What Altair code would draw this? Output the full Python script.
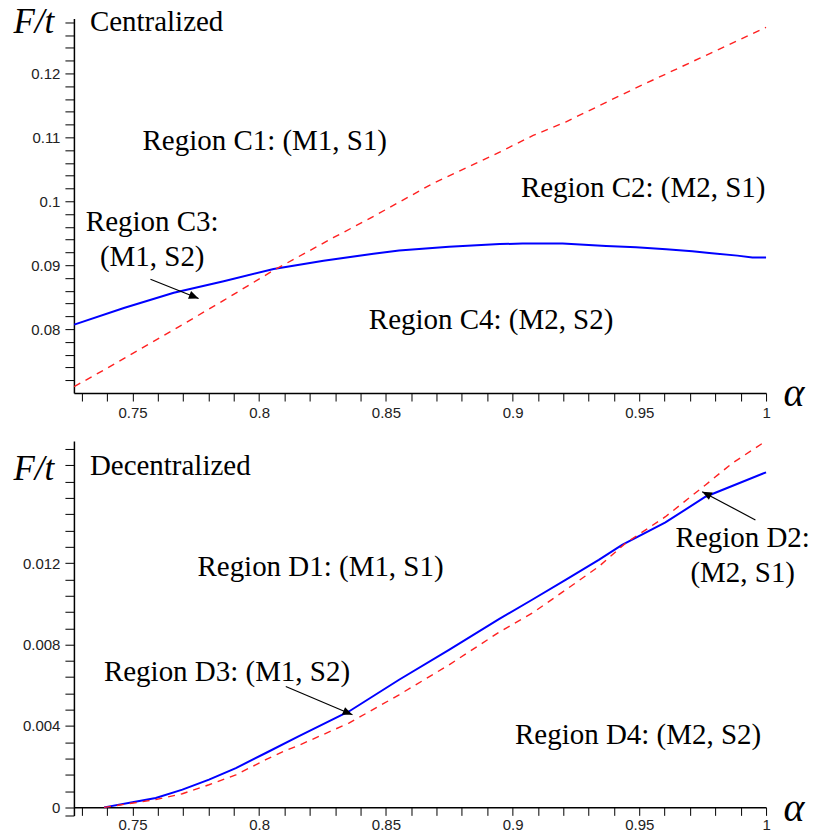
import json
import altair as alt
import pandas as pd

# ---------------- Centralized panel data ----------------
c_blue_alpha = [0.727, 0.7466, 0.7663, 0.786, 0.8057, 0.8254, 0.8451, 0.8552, 0.8749, 0.8949,
                0.9039, 0.9197, 0.9369, 0.9487, 0.9606, 0.9709, 0.9776, 0.9887, 0.9946, 1.0]
c_blue_ft = [0.0807, 0.0833, 0.0857, 0.0875, 0.0894, 0.0907, 0.0918, 0.0923, 0.0929, 0.0933,
             0.0934, 0.0934, 0.0930, 0.0928, 0.0925, 0.0922, 0.0919, 0.0915, 0.0912, 0.0912]
c_red_alpha = [0.727, 0.7387, 0.7663, 0.786, 0.8057, 0.8292, 0.8431, 0.8686, 0.8949, 0.9081,
               0.9209, 0.9474, 0.9739, 1.0]
c_red_ft = [0.0710, 0.0736, 0.0799, 0.0845, 0.0892, 0.0943, 0.0972, 0.1028, 0.1077, 0.1103,
            0.1124, 0.1175, 0.1224, 0.1272]
c_labels = ["Region C1: (M1, S1)", "Region C2: (M2, S1)", "Region C3:\n(M1, S2)", "Region C4: (M2, S2)"]
c_label_alpha = [0.8022, 0.9515, 0.7578, 0.8915]
c_label_ft = [0.1094, 0.1020, 0.0968, 0.0815]
c_arrow = {"a0": [0.7571], "f0": [0.0878], "a1": [0.7761], "f1": [0.0848], "angle": [111.5]}
c_corner = {"a": [0.7332], "f": [0.1267], "t": ["Centralized"]}

# ---------------- Decentralized panel data ----------------
d_blue_alpha = [0.7388, 0.75, 0.7592, 0.7697, 0.7802, 0.7908, 0.8026, 0.8157, 0.8354, 0.8552,
                0.8749, 0.8946, 0.9077, 0.9209, 0.934, 0.9432, 0.9603, 0.9761, 0.9866, 1.0]
d_blue_ft = [0.0, 0.00025, 0.00046, 0.00087, 0.00136, 0.00193, 0.00267, 0.0035, 0.00471, 0.00627,
             0.00774, 0.00925, 0.0102, 0.01118, 0.01216, 0.01289, 0.0140, 0.01526, 0.01579, 0.01646]
d_red_alpha = [0.7388, 0.7592, 0.7697, 0.7802, 0.7908, 0.8026, 0.8105, 0.8157, 0.8354, 0.8552,
               0.8749, 0.8946, 0.9077, 0.9209, 0.934, 0.9446, 0.9603, 0.9761, 0.9866, 1.0]
d_red_ft = [0.0, 0.00038, 0.00067, 0.00111, 0.0016, 0.00234, 0.0028, 0.00305, 0.00414, 0.00553,
            0.0070, 0.0086, 0.00954, 0.01068, 0.01183, 0.01298, 0.01428, 0.01584, 0.0169, 0.0180]
d_labels = ["Region D1: (M1, S1)", "Region D2:\n(M2, S1)", "Region D3: (M1, S2)", "Region D4: (M2, S2)"]
d_label_alpha = [0.8242, 0.9908, 0.7873, 0.9495]
d_label_ft = [0.01183, 0.01322, 0.00667, 0.00357]
d_arrow = {"a0": [0.8105, 0.9958], "f0": [0.00594, 0.01412],
           "a1": [0.8368, 0.9748], "f1": [0.00455, 0.01551], "angle": [113.0, 298.0]}
d_corner = {"a": [0.7332], "f": [0.01633], "t": ["Decentralized"]}

# ---------------- axis ticks ----------------
x_ticks = [round(0.73 + 0.01 * i, 2) for i in range(28)]
x_major = [0.75, 0.8, 0.85, 0.9, 0.95, 1.0]
c_y_ticks = [round(0.072 + 0.002 * i, 3) for i in range(29)]
c_y_major = [0.08, 0.09, 0.1, 0.11, 0.12]
d_y_ticks = [-0.0004] + [round(0.0008 * i, 4) for i in range(23)]
d_y_major = [0.0, 0.004, 0.008, 0.012]

SERIF = "Liberation Serif"
SANS = "Liberation Sans"
W, H = 693, 375
X_DOMAIN = [0.7269, 1.0]


def label_expr(major):
    return f"indexof({json.dumps(major)}, datum.value) >= 0 ? format(datum.value, '~g') : ''"


def panel(blue_a, blue_f, red_a, red_f, lab_t, lab_a, lab_f, arrow, corner,
          y_domain, y_ticks, y_major, ft_y, alpha_y, x_offset, x_lab_pad):
    xaxis = alt.Axis(values=x_ticks, tickCount=500, labelExpr=label_expr(x_major), grid=False,
                     tickSize=8, labelPadding=x_lab_pad, labelFont=SANS, labelFontSize=15,
                     labelColor="#222", labelFlush=False, labelOverlap=False,
                     domainColor="black", domainWidth=1.5, tickColor="black",
                     title="α", titleFont=SERIF, titleFontStyle="italic",
                     titleFontWeight="normal", titleFontSize=40, titleAlign="left",
                     titleBaseline="alphabetic", titleX=W + 17, titleY=alpha_y,
                     titleColor="black", offset=x_offset)
    yaxis = alt.Axis(values=y_ticks, tickCount=500, labelExpr=label_expr(y_major), grid=False,
                     tickSize=9, labelPadding=5, labelFont=SANS, labelFontSize=15,
                     labelColor="#222", labelFlush=False, labelOverlap=False,
                     domainColor="black", domainWidth=1.5, tickColor="black",
                     title="F/t", titleFont=SERIF, titleFontStyle="italic",
                     titleFontWeight="normal", titleFontSize=35, titleAngle=0,
                     titleAlign="left", titleBaseline="alphabetic", titleX=-61,
                     titleY=ft_y, titleColor="black")
    xs = alt.Scale(domain=X_DOMAIN, nice=False, zero=False)
    ys = alt.Scale(domain=y_domain, nice=False, zero=False)

    blue_df = pd.DataFrame({"a": blue_a, "f": blue_f})
    red_df = pd.DataFrame({"a": red_a, "f": red_f})
    lab_df = pd.DataFrame({"a": lab_a, "f": lab_f, "t": lab_t})
    arr_df = pd.DataFrame(arrow)
    cor_df = pd.DataFrame(corner)

    blue = alt.Chart(blue_df).mark_line(color="#0000ff", strokeWidth=2).encode(
        x=alt.X("a:Q", scale=xs, axis=xaxis),
        y=alt.Y("f:Q", scale=ys, axis=yaxis),
    )
    red = alt.Chart(red_df).mark_line(color="#ff2020", strokeWidth=1.4,
                                      strokeDash=[7, 6]).encode(
        x=alt.X("a:Q", scale=xs), y=alt.Y("f:Q", scale=ys))
    texts = alt.Chart(lab_df).mark_text(font=SERIF, fontSize=29, lineBreak="\n",
                                         lineHeight=35, align="center",
                                         baseline="middle", color="black").encode(
        x=alt.X("a:Q", scale=xs), y=alt.Y("f:Q", scale=ys), text="t:N")
    corner_txt = alt.Chart(cor_df).mark_text(font=SERIF, fontSize=29, align="left",
                                              baseline="alphabetic", color="black").encode(
        x=alt.X("a:Q", scale=xs), y=alt.Y("f:Q", scale=ys), text="t:N")
    arrow_line = alt.Chart(arr_df).mark_rule(color="black", strokeWidth=1.2).encode(
        x=alt.X("a0:Q", scale=xs), y=alt.Y("f0:Q", scale=ys),
        x2="a1:Q", y2="f1:Q")
    arrow_head = alt.Chart(arr_df).mark_point(
        shape="M0,0 L-0.42,1 L0.42,1 Z", filled=True, color="black", opacity=1,
        size=380, strokeWidth=0).encode(
        x=alt.X("a1:Q", scale=xs), y=alt.Y("f1:Q", scale=ys),
        angle=alt.Angle("angle:Q", scale=None))
    return alt.layer(blue, red, texts, corner_txt, arrow_line, arrow_head).properties(
        width=W, height=H)


top = panel(c_blue_alpha, c_blue_ft, c_red_alpha, c_red_ft, c_labels, c_label_alpha,
            c_label_ft, c_arrow, c_corner, [0.0700, 0.1286], c_y_ticks, c_y_major,
            14, 12, 0, 4)
bottom = panel(d_blue_alpha, d_blue_ft, d_red_alpha, d_red_ft, d_labels, d_label_alpha,
               d_label_ft, d_arrow, d_corner, [-0.0004, 0.0180], d_y_ticks, d_y_major,
               39, 13, -8.15, 2)

chart = alt.vconcat(top, bottom, spacing=18).properties(
    padding={"top": -4, "left": 5, "right": 0, "bottom": -3}
).configure_view(stroke=None)

chart.save("out.html", embed_options={"renderer": "svg", "actions": False})
